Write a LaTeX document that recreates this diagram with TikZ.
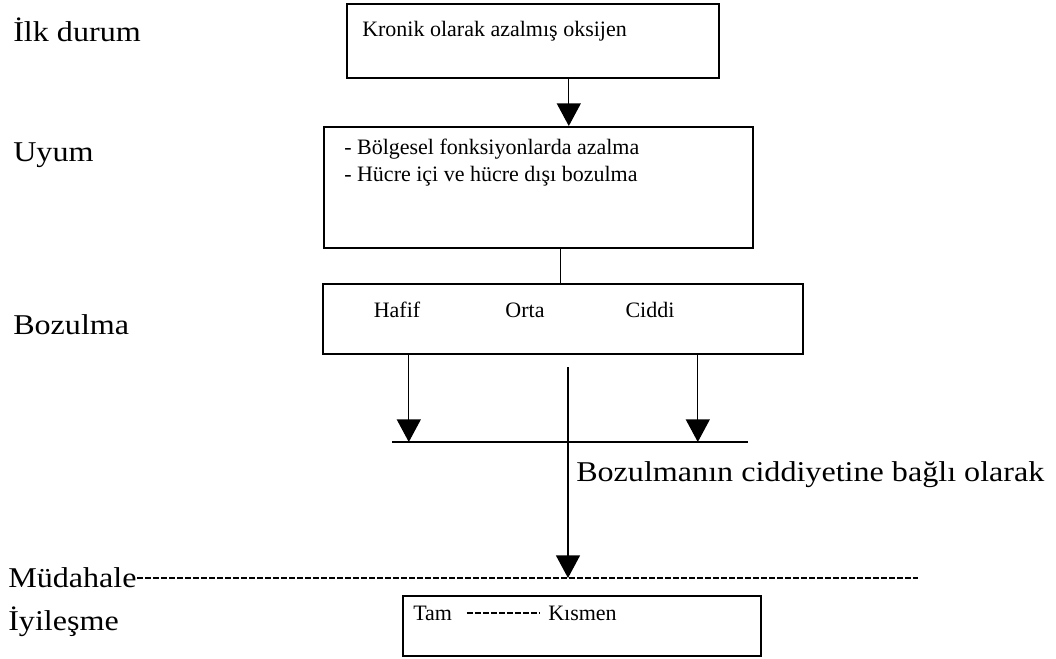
\documentclass[tikz,border=0pt]{standalone}
\usepackage{fontspec}
\setmainfont{Liberation Serif}
\newfontfamily\etiketfont[FakeStretch=1.12]{Liberation Serif}
\usetikzlibrary{arrows.meta}

\begin{document}
\begin{tikzpicture}[x=0.75pt,y=-0.75pt]
\tikzset{
  kutu/.style={draw, line width=1.2pt, anchor=north west, inner sep=0pt},
  etiket/.style={anchor=west, inner sep=0pt, font=\etiketfont\fontsize{21.5}{25}\selectfont},
  yazi/.style={anchor=base west, inner sep=0pt, font=\fontsize{16.5}{19}\selectfont},
  ok/.style={line width=1pt, -{Triangle[width=18pt,length=17pt]}},
  tire/.style={line width=1.1pt, dash pattern=on 4.5pt off 1.5pt}
}
\useasboundingbox (0,0) rectangle (1056,658);

\node[etiket] (ilk) at (13,30) {İlk durum};
\node[etiket] (uyum) at (13,155) {Uyum};
\node[etiket] (bozulma) at (13,325) {Bozulma};
\node[etiket] (mudahale) at (8,578) {Müdahale};
\node[etiket] (iyilesme) at (8,622) {İyileşme};

\node[kutu, minimum width=279pt, minimum height=55.5pt] (kronik) at (346,3) {};
\node[yazi] (kronikyazi) at (362,36) {Kronik olarak azalmış oksijen};

\node[kutu, minimum width=321.75pt, minimum height=90.75pt] (uyumkutu) at (323,126) {};
\node[yazi] (bolgesel) at (344,154) {- Bölgesel fonksiyonlarda azalma};
\node[yazi] (hucre) at (344,181) {- Hücre içi ve hücre dışı bozulma};

\node[kutu, minimum width=360pt, minimum height=52.5pt] (bozkutu) at (322,283) {};
\node[yazi, anchor=base] (hafif) at (397,317) {Hafif};
\node[yazi, anchor=base] (orta) at (525,317) {Orta};
\node[yazi, anchor=base] (ciddi) at (650,317) {Ciddi};

\coordinate (birlesA) at (392,442);
\coordinate (birlesB) at (748,442);
\coordinate (ortabas) at (568,367);
\coordinate (mudsonu) at (918,580);

\node[etiket] (ciddiyet) at (576,475) {Bozulmanın ciddiyetine bağlı olarak};

\node[kutu, minimum width=268.5pt, minimum height=45pt] (iyikutu) at (402,595) {};
\node[yazi] (tam) at (413,620) {Tam};
\node[yazi] (kismen) at (548,620) {Kısmen};

% baglantilar
\draw[ok] ([xshift=27pt]kronik.south) -- ([xshift=27pt]kronik.south |- uyumkutu.north);
\draw[line width=0.8pt] ([xshift=16.9pt]uyumkutu.south) -- ([xshift=16.9pt]uyumkutu.south |- bozkutu.north);
\draw[line width=1.3pt] (birlesA) -- (birlesB);
\draw[ok] ([xshift=-115.5pt]bozkutu.south) -- ([xshift=-115.5pt]bozkutu.south |- birlesA);
\draw[ok] ([xshift=101.25pt]bozkutu.south) -- ([xshift=101.25pt]bozkutu.south |- birlesA);
\draw[ok] (ortabas) -- (ortabas |- mudahale.east);
\draw[tire] (mudahale.east) -- (mudahale.east -| mudsonu);
\draw[tire] ([xshift=11pt]tam.east) -- ([xshift=-6pt]kismen.west);

\end{tikzpicture}
\end{document}
